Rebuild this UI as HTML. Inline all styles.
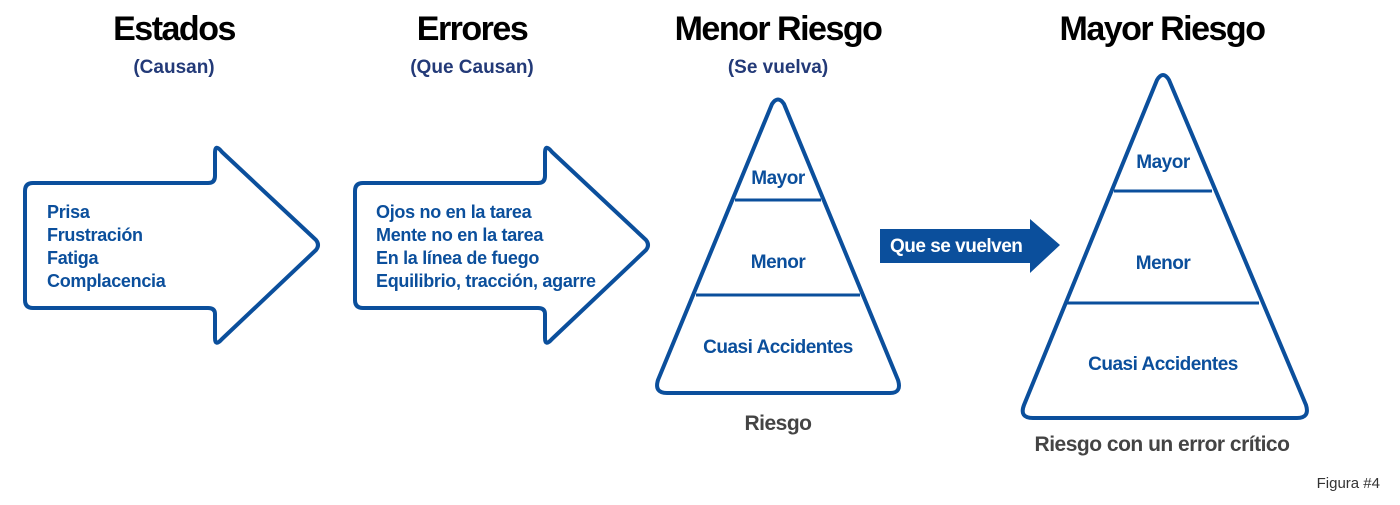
<!DOCTYPE html>
<html><head><meta charset="utf-8"><style>
body{margin:0;background:#fff;width:1400px;height:500px;overflow:hidden}
svg text{font-family:"Liberation Sans",sans-serif;font-weight:bold}
</style></head><body>
<svg width="1400" height="500" viewBox="0 0 1400 500" xmlns="http://www.w3.org/2000/svg">
<g fill="#000" font-size="34" text-anchor="middle" letter-spacing="-1.5">
<text x="174" y="40">Estados</text>
<text x="472" y="40">Errores</text>
<text x="778" y="40">Menor Riesgo</text>
<text x="1162" y="40">Mayor Riesgo</text>
</g>
<g fill="#233a78" font-size="19" text-anchor="middle">
<text x="174" y="73">(Causan)</text>
<text x="472" y="73">(Que Causan)</text>
<text x="778" y="73">(Se vuelva)</text>
</g>
<g fill="#fff" stroke="#0b4f9c" stroke-width="4" stroke-linejoin="round">
<path d="M33 183 H208 Q215 183 215 176 V153 Q215 143 222 152 L316 240 Q320 245 316 250 L222 339 Q215 347 215 338 V314 Q215 308 208 308 H33 Q25 308 25 300 V191 Q25 183 33 183 Z"/>
<path d="M363 183 H538 Q545 183 545 176 V153 Q545 143 552 152 L646 240 Q650 245 646 250 L552 339 Q545 347 545 338 V314 Q545 308 538 308 H363 Q355 308 355 300 V191 Q355 183 363 183 Z"/>
<path d="M772 104 Q778 95 784 104 L898 380 Q902 393 890 393 H667 Q654 393 658 380 Z"/>
<path d="M1157 80 Q1163 70 1169 80 L1306 405 Q1310 418 1297 418 H1033 Q1019 418 1024 405 Z"/>
</g>
<g stroke="#0b4f9c" stroke-width="3">
<line x1="735" y1="200" x2="821" y2="200"/><line x1="696" y1="295" x2="860" y2="295"/>
<line x1="1114" y1="191" x2="1212" y2="191"/><line x1="1067" y1="303" x2="1259" y2="303"/>
</g>
<path d="M880 229 H1030 V219 L1060 245 L1030 273 V263 H880 Z" fill="#0b4f9c"/>
<text x="890" y="252" fill="#fff" font-size="19" letter-spacing="-0.5">Que se vuelven</text>
<g fill="#0b4f9c" font-size="18" letter-spacing="-0.3">
<text x="47" y="218">Prisa</text><text x="47" y="241">Frustración</text><text x="47" y="264">Fatiga</text><text x="47" y="287">Complacencia</text>
<text x="376" y="218">Ojos no en la tarea</text><text x="376" y="241">Mente no en la tarea</text><text x="376" y="264">En la línea de fuego</text><text x="376" y="287">Equilibrio, tracción, agarre</text>
</g>
<g fill="#0b4f9c" font-size="19" text-anchor="middle" letter-spacing="-0.5">
<text x="778" y="184">Mayor</text><text x="778" y="268">Menor</text><text x="778" y="353">Cuasi Accidentes</text>
<text x="1163" y="168">Mayor</text><text x="1163" y="269">Menor</text><text x="1163" y="370">Cuasi Accidentes</text>
</g>
<g fill="#444" font-size="21" text-anchor="middle" letter-spacing="-0.5">
<text x="778" y="430">Riesgo</text>
<text x="1162" y="451">Riesgo con un error crítico</text>
</g>
<text x="1380" y="488" fill="#333" font-size="15" text-anchor="end" style="font-weight:normal">Figura #4</text>
</svg>
</body></html>
